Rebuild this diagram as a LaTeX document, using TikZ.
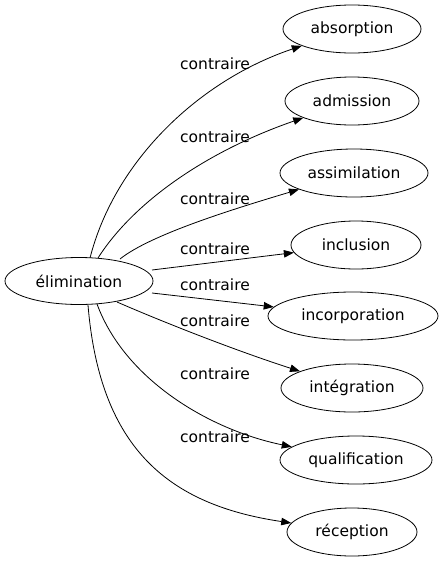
\documentclass[tikz,border=0pt]{standalone}
\usepackage{fontspec}
\setmainfont{DejaVu Sans}
\usetikzlibrary{shapes.geometric,arrows.meta}
\tikzset{
  term/.style={draw, ellipse, inner sep=0pt, minimum height=48pt, line width=0.8pt, font=\fontsize{15.5}{18}\selectfont},
  lbl/.style={inner sep=0pt, font=\fontsize{15.5}{18}\selectfont},
  rel/.style={line width=0.8pt, -{Triangle[length=10pt,width=7.5pt]}}
}
\begin{document}
\begin{tikzpicture}[x=1pt,y=-1pt]
\useasboundingbox (0,0) rectangle (442,563);
\node[term, minimum width=148pt, minimum height=47pt] (elim) at (79,281) {élimination};
\node[term, minimum width=138pt] (t1) at (352,29) {absorption};
\node[term, minimum width=134pt] (t2) at (352,101) {admission};
\node[term, minimum width=148pt] (t3) at (354,173) {assimilation};
\node[term, minimum width=130pt] (t4) at (356,245) {inclusion};
\node[term, minimum width=170pt] (t5) at (353,316) {incorporation};
\node[term, minimum width=142pt] (t6) at (352,388) {intégration};
\node[term, minimum width=152pt] (t7) at (356,460) {qualification};
\node[term, minimum width=130pt] (t8) at (352,532) {réception};

\coordinate (s1) at (90,258);
\coordinate (s2) at (98,258);
\coordinate (s3) at (120,259);
\coordinate (s4) at (152,270);
\coordinate (s5) at (152,293);
\coordinate (s6) at (117,302);
\coordinate (s7) at (97,304);
\coordinate (s8) at (88,305);

\draw[rel] (s1) .. controls (115,160) and (200,80) .. (t1);
\draw[rel] (s2) .. controls (135,200) and (210,150) .. (t2);
\draw[rel] (s3) .. controls (150,235) and (230,210) .. (t3);
\draw[rel] (s4) -- (t4);
\draw[rel] (s5) -- (t5);
\draw[rel] (s6) .. controls (170,325) and (240,352) .. (t6);
\draw[rel] (s7) .. controls (125,380) and (210,430) .. (t7);
\draw[rel] (s8) .. controls (100,450) and (170,505) .. (t8);

\node[lbl] (l1) at (215,64) {contraire};
\node[lbl] (l2) at (215,137) {contraire};
\node[lbl] (l3) at (215,199) {contraire};
\node[lbl] (l4) at (215,249) {contraire};
\node[lbl] (l5) at (215,285) {contraire};
\node[lbl] (l6) at (215,321) {contraire};
\node[lbl] (l7) at (215,374) {contraire};
\node[lbl] (l8) at (215,437) {contraire};
\end{tikzpicture}
\end{document}
